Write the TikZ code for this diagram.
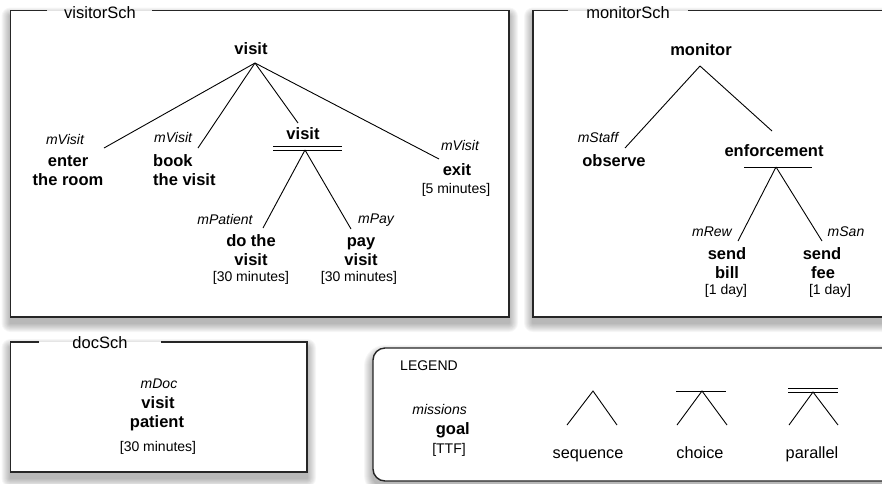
\documentclass[tikz,border=0pt]{standalone}
\usepackage{fontspec}
\setmainfont{Liberation Sans}

% soft shadow under a box: x1 y1 x2 y2 corner-radius
\newcommand{\softshadow}[5]{%
  \foreach \r in {1,...,9}{%
    \fill[black, opacity=0.035, rounded corners={#5+\r*1pt}]
      (#1-\r,#2-\r+6) rectangle (#3+\r,#4+\r+6);
  }}

\begin{document}
\begin{tikzpicture}[x=1pt,y=-1pt,
  frame/.style={line width=1.4pt, draw=black!85},
  branch/.style={line width=0.9pt, draw=black},
  goal/.style={font=\bfseries\fontsize{16.5}{20}\selectfont, inner sep=0pt, anchor=base},
  mission/.style={font=\itshape\fontsize{14}{16}\selectfont, inner sep=0pt, anchor=base},
  ttf/.style={font=\fontsize{14}{16}\selectfont, inner sep=0pt, anchor=base},
  schtitle/.style={font=\fontsize{16.5}{20}\selectfont, inner sep=0pt, anchor=base},
  legtext/.style={font=\fontsize{16.3}{20}\selectfont, inner sep=0pt, anchor=base},
]
\useasboundingbox (0,0) rectangle (882,483);
\clip (0,0) rectangle (882,483);

% ---------------- frames ----------------
% visitorSch
\softshadow{10.5}{10.5}{509}{317}{0pt}
\fill[white] (10.5,10.5) rectangle (509,317);
\draw[frame] (47,10.5) -| (10.5,317) -| (509,10.5) -- (152,10.5);
\node[schtitle] (tVisitor) at (100,18) {visitorSch};

% monitorSch
\softshadow{533}{10.5}{900}{317}{0pt}
\fill[white] (533,10.5) rectangle (900,317);
\draw[frame] (568,10.5) -| (533,317) -- (900,317);
\draw[frame] (688,10.5) -- (900,10.5);
\node[schtitle] (tMonitor) at (628,18) {monitorSch};

% docSch
\softshadow{10.5}{342}{307}{472}{0pt}
\fill[white] (10.5,342) rectangle (307,472);
\draw[frame] (39,342) -| (10.5,472) -| (307,342) -- (161,342);
\node[schtitle] (tDoc) at (100,348) {docSch};

% legend
\softshadow{373}{348}{900}{481}{12pt}
\fill[white, rounded corners=12pt] (373,348) rectangle (900,481);
\draw[frame, rounded corners=12pt] (373,348) rectangle (900,481);

% ---------------- visitorSch tree ----------------
\node[goal] (vRoot) at (251,54) {visit};
\coordinate (vA) at (255,63);

\node[mission] (vEnterM) at (65,144) {mVisit};
\node[goal] (vEnter1) at (68,166) {enter};
\node[goal] (vEnter2) at (68,185) {the room};
\coordinate (vE) at (104,148);

\node[mission, anchor=base west] (vBookM) at (154,142) {mVisit};
\node[goal, anchor=base west] (vBook1) at (153,166) {book};
\node[goal, anchor=base west] (vBook2) at (153,185) {the visit};
\coordinate (vB) at (198,148);

\node[goal] (vSub) at (303,139) {visit};
\coordinate (vS) at (298,123);
\coordinate (sA) at (305,150);
\draw[branch] (273,146) -- (342,146);
\draw[branch] (273,150) -- (342,150);

\node[mission] (vDoM) at (225,224) {mPatient};
\node[goal] (vDo1) at (251,246) {do the};
\node[goal] (vDo2) at (251,265) {visit};
\node[ttf] (vDoT) at (251,281) {[30 minutes]};
\coordinate (sD) at (263,228);

\node[mission] (vPayM) at (376,223) {mPay};
\node[goal] (vPay1) at (361,246) {pay};
\node[goal] (vPay2) at (361,265) {visit};
\node[ttf] (vPayT) at (359,281) {[30 minutes]};
\coordinate (sP) at (351,229);

\node[mission] (vExitM) at (460,150) {mVisit};
\node[goal] (vExit1) at (457,175) {exit};
\node[ttf] (vExitT) at (456,193) {[5 minutes]};
\coordinate (vX) at (439,159);

\draw[branch] (vA) -- (vE);
\draw[branch] (vA) -- (vB);
\draw[branch] (vA) -- (vS);
\draw[branch] (vA) -- (vX);
\draw[branch] (sA) -- (sD);
\draw[branch] (sA) -- (sP);

% ---------------- monitorSch tree ----------------
\node[goal] (mRoot) at (701,55) {monitor};
\coordinate (mA) at (700,66);

\node[mission] (mObsM) at (598,142) {mStaff};
\node[goal] (mObs) at (614,166) {observe};
\coordinate (mO) at (625,148);

\node[goal] (mEnf) at (774,156) {enforcement};
\coordinate (mE) at (772,131);
\draw[branch] (744,167) -- (812,167);
\coordinate (eA) at (776,167);

\node[mission] (mRewM) at (712,236) {mRew};
\node[goal] (mBill1) at (727,259) {send};
\node[goal] (mBill2) at (727,278) {bill};
\node[ttf] (mBillT) at (726,294) {[1 day]};
\coordinate (eB) at (738,241);

\node[mission] (mSanM) at (846,236) {mSan};
\node[goal] (mFee1) at (822,259) {send};
\node[goal] (mFee2) at (823,278) {fee};
\node[ttf] (mFeeT) at (830,294) {[1 day]};
\coordinate (eF) at (822,241);

\draw[branch] (mA) -- (mO);
\draw[branch] (mA) -- (mE);
\draw[branch] (eA) -- (eB);
\draw[branch] (eA) -- (eF);

% ---------------- docSch ----------------
\node[mission] (dM) at (159,388) {mDoc};
\node[goal] (dG1) at (158,408) {visit};
\node[goal] (dG2) at (157,427) {patient};
\node[ttf] (dT) at (158,451) {[30 minutes]};

% ---------------- legend ----------------
\node[ttf] (lTitle) at (429,370) {LEGEND};
\node[mission, anchor=base east] (lMis) at (467,414) {missions};
\node[goal, anchor=base east] (lGoal) at (470,434) {goal};
\node[ttf] (lTTF) at (449,453) {[TTF]};

\coordinate (qA) at (593,391);
\coordinate (qL) at (567,425);
\coordinate (qR) at (617,425);
\draw[branch] (qL) -- (qA) -- (qR);
\node[legtext] (lSeq) at (588,458) {sequence};

\coordinate (cA) at (702,391);
\coordinate (cL) at (677,425);
\coordinate (cR) at (727,425);
\draw[branch] (676,391) -- (726,391);
\draw[branch] (cL) -- (cA) -- (cR);
\node[legtext] (lCho) at (700,458) {choice};

\coordinate (pA) at (813,392);
\coordinate (pL) at (789,425);
\coordinate (pR) at (838,425);
\draw[branch] (788,388) -- (838,388);
\draw[branch] (788,392) -- (838,392);
\draw[branch] (pL) -- (pA) -- (pR);
\node[legtext] (lPar) at (812,458) {parallel};
\end{tikzpicture}
\end{document}
